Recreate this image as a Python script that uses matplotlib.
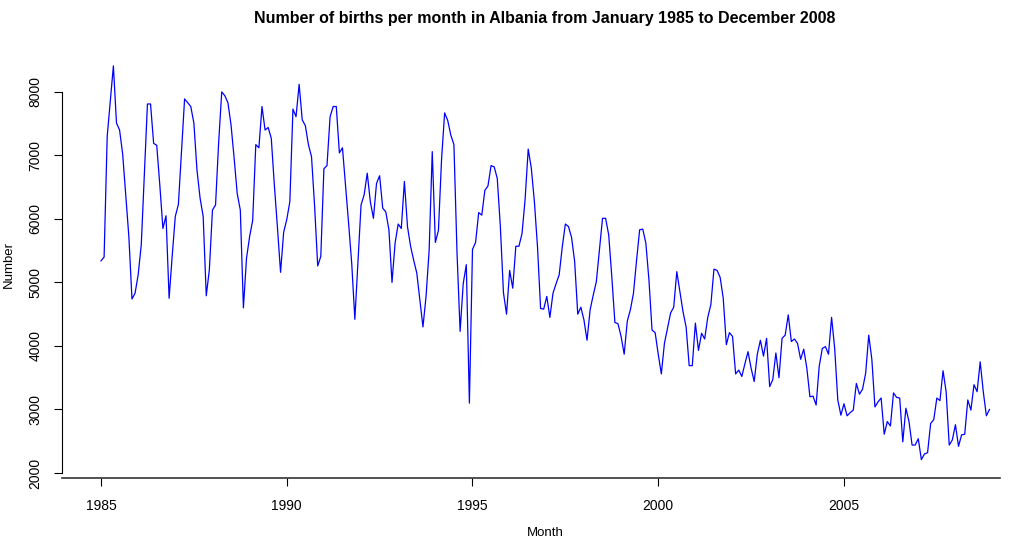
import matplotlib
matplotlib.use("Agg")
import matplotlib.pyplot as plt
import numpy as np

# monthly births, January 1985 .. December 2008
births_1985_1990 = [
    5340, 5400, 7300, 7860, 8410, 7510, 7400, 7020, 6380, 5720, 4740, 4830,
    5120, 5590, 6700, 7810, 7810, 7190, 7160, 6530, 5850, 6050, 4750, 5420,
    6040, 6230, 7060, 7890, 7830, 7770, 7510, 6770, 6330, 6040, 4790, 5200,
    6140, 6220, 7200, 8000, 7940, 7830, 7480, 6960, 6400, 6140, 4600, 5380,
    5720, 5980, 7170, 7120, 7770, 7400, 7440, 7270, 6530, 5860, 5160, 5790,
    5990, 6270, 7730, 7610, 8120, 7560, 7470, 7170, 6980, 6200, 5260, 5410,
]
births_1991_1996 = [
    6790, 6840, 7610, 7770, 7770, 7040, 7120, 6520, 5920, 5290, 4420, 5320,
    6220, 6380, 6720, 6270, 6010, 6560, 6680, 6170, 6110, 5830, 5000, 5620,
    5920, 5850, 6590, 5880, 5570, 5350, 5150, 4720, 4300, 4780, 5510, 7060,
    5630, 5820, 6930, 7670, 7550, 7320, 7170, 5470, 4230, 4980, 5280, 3100,
    5520, 5630, 6100, 6060, 6450, 6520, 6840, 6820, 6640, 5880, 4840, 4500,
    5190, 4910, 5570, 5570, 5770, 6310, 7100, 6800, 6270, 5560, 4590, 4580,
]
births_1997_2002 = [
    4780, 4450, 4830, 4980, 5120, 5560, 5920, 5880, 5710, 5330, 4500, 4610,
    4410, 4090, 4570, 4800, 5010, 5510, 6010, 6010, 5750, 5090, 4370, 4350,
    4150, 3870, 4390, 4570, 4830, 5350, 5830, 5840, 5620, 5040, 4250, 4210,
    3870, 3560, 4040, 4280, 4520, 4610, 5170, 4860, 4540, 4300, 3690, 3690,
    4360, 3930, 4200, 4110, 4450, 4650, 5210, 5190, 5080, 4750, 4020, 4210,
    4150, 3560, 3620, 3520, 3720, 3910, 3650, 3440, 3870, 4090, 3840, 4120,
]
births_2003_2008 = [
    3360, 3470, 3890, 3500, 4120, 4170, 4490, 4070, 4110, 4040, 3790, 3950,
    3650, 3200, 3210, 3070, 3680, 3960, 3990, 3870, 4450, 3960, 3150, 2910,
    3090, 2900, 2950, 2990, 3410, 3240, 3320, 3570, 4170, 3790, 3040, 3120,
    3180, 2610, 2810, 2740, 3260, 3190, 3180, 2490, 3020, 2810, 2440, 2440,
    2540, 2210, 2300, 2320, 2780, 2840, 3180, 3140, 3610, 3280, 2440, 2520,
    2760, 2420, 2600, 2610, 3150, 2990, 3390, 3280, 3750, 3280, 2900, 3000,
]
x_ticks = [1985, 1990, 1995, 2000, 2005]
y_ticks = [2000, 3000, 4000, 5000, 6000, 7000, 8000]

births = np.array(births_1985_1990 + births_1991_1996 + births_1997_2002 + births_2003_2008)
months = 1985 + np.arange(len(births)) / 12.0

plt.rcParams['font.family'] = ['Liberation Sans', 'DejaVu Sans']

fig = plt.figure(figsize=(10.17, 5.39), dpi=100)
ax = fig.add_axes([62 / 1017, 61 / 539, 938 / 1017, 428 / 539])

ax.plot(months, births, color="blue", linewidth=0.9)

ax.set_xlim(1983.95, 2009.2)
ax.set_ylim(1921, 8660)
ax.set_xticks(x_ticks)
ax.set_yticks(y_ticks)
ax.set_yticklabels([str(v) for v in y_ticks], rotation=90, va="center")
ax.tick_params(labelsize=10, length=6, width=0.8, direction="out", pad=9)
ax.tick_params(axis="y", pad=8)

for side in ["top", "right"]:
    ax.spines[side].set_visible(False)
ax.spines["left"].set_bounds(2000, 8000)
ax.spines["left"].set_linewidth(0.8)
ax.spines["bottom"].set_linewidth(1.2)
ax.spines["bottom"].set_color("#333333")

ax.set_ylabel("Number", fontsize=9.5, labelpad=10)
# x label sits right at the bottom edge, as in the reference
fig.text(545 / 1017, 1 - 527 / 539, "Month", ha="center", va="top", fontsize=9.5)
fig.text(545 / 1017, 1 - 19 / 539, "Number of births per month in Albania from January 1985 to December 2008",
         ha="center", va="center", fontsize=11.5, fontweight="bold")

fig.savefig("out.png", dpi=100)
